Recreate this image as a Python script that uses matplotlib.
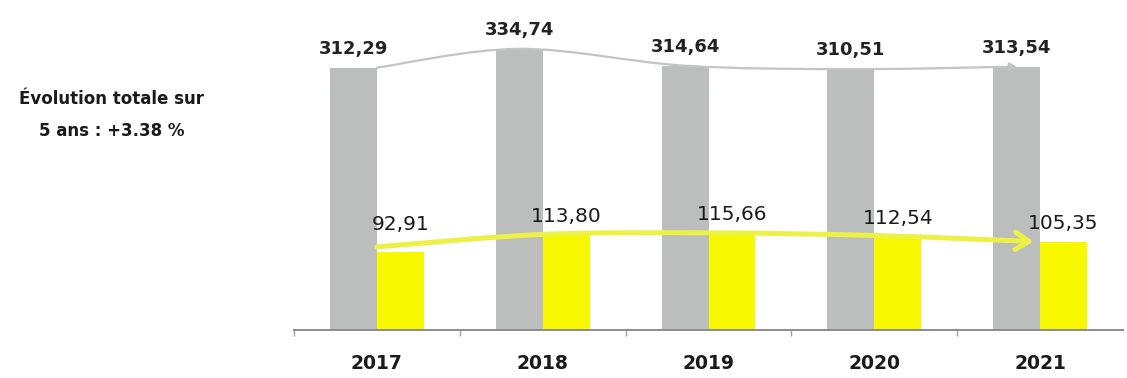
import matplotlib
matplotlib.use("Agg")
import matplotlib.pyplot as plt
from matplotlib.path import Path
from matplotlib.patches import FancyArrowPatch
import numpy as np

years = ["2017", "2018", "2019", "2020", "2021"]
grey_values = [312.29, 334.74, 314.64, 310.51, 313.54]
yellow_values = [92.91, 113.80, 115.66, 112.54, 105.35]
grey_labels = ["312,29", "334,74", "314,64", "310,51", "313,54"]
yellow_labels = ["92,91", "113,80", "115,66", "112,54", "105,35"]
note_text = "Évolution totale sur\n5 ans : +3.38 %"

GREY = "#bcbdbd"
YELLOW = "#f7f700"
YELLOW_LINE = "#ecf245"
CURVE_GREY = "#c4c4c4"

fig = plt.figure(figsize=(11.27, 3.78), dpi=100)
ax = fig.add_axes([294 / 1127, 48 / 378, 829 / 1127, 330 / 378])

x = np.arange(len(years))
w = 0.283
ax.bar(x - w / 2, grey_values, width=w, color=GREY, zorder=2)
ax.bar(x + w / 2, yellow_values, width=w, color=YELLOW, zorder=2)

ax.set_xlim(-0.5, 4.5)
ax.set_ylim(0, 330 / 0.84)


def smooth_path(px, py):
    pts = np.column_stack([px, py]).astype(float)
    n = len(pts)
    verts = [pts[0]]
    codes = [Path.MOVETO]
    for i in range(n - 1):
        p0 = pts[i - 1] if i > 0 else pts[i]
        p1 = pts[i]
        p2 = pts[i + 1]
        p3 = pts[i + 2] if i + 2 < n else pts[i + 1]
        c1 = p1 + (p2 - p0) / 6.0
        c2 = p2 - (p3 - p1) / 6.0
        verts += [c1, c2, p2]
        codes += [Path.CURVE4] * 3
    return Path(verts, codes)


# grey trend curve through grey bar tops
gx = list(x - w / 2)
gx[0] = 0.0
gpath = smooth_path(gx, grey_values)
garrow = FancyArrowPatch(path=gpath, arrowstyle="-|>,head_length=0.5,head_width=0.3",
                         mutation_scale=8, color=CURVE_GREY, lw=1.6, zorder=3)
ax.add_patch(garrow)

# yellow trend arrow
yx = list(x.astype(float))
yx[-1] = 3.96
ypath = smooth_path(yx, [yellow_values[0] + 6] + yellow_values[1:])
yarrow = FancyArrowPatch(path=ypath, arrowstyle="->,head_length=0.7,head_width=0.45",
                         mutation_scale=14, color=YELLOW_LINE, lw=3.6, zorder=4)
ax.add_patch(yarrow)

# value labels
for i, (v, lab) in enumerate(zip(grey_values, grey_labels)):
    ax.annotate(lab, (i - w / 2, v), xytext=(0, 10), textcoords="offset points",
                ha="center", va="baseline", fontsize=13, fontweight="bold",
                color="#222222", zorder=5)

y_offsets = [16, 9, 9, 8, 9]
for i, (v, lab) in enumerate(zip(yellow_values, yellow_labels)):
    ax.annotate(lab, (i + w / 2, v), xytext=(0, y_offsets[i]), textcoords="offset points",
                ha="center", va="baseline", fontsize=14.5, color="#1a1a1a", zorder=5)

# axes styling
for s in ["top", "right", "left"]:
    ax.spines[s].set_visible(False)
ax.spines["bottom"].set_color("#8c8c8c")
ax.spines["bottom"].set_linewidth(1.4)
ax.set_yticks([])
ax.set_xticks(x)
ax.set_xticklabels(years, fontsize=13.5, fontweight="bold", color="#1a1a1a")
ax.tick_params(axis="x", which="major", length=0, pad=17)
ax.set_xticks(np.arange(-0.5, 4.0, 1.0), minor=True)
ax.tick_params(axis="x", which="minor", length=4, width=1, color="#a0a0a0")

fig.text(112 / 1127, 1 - 115 / 378, note_text, ha="center", va="center",
         fontsize=12, fontweight="bold", color="#1a1a1a", linespacing=2.0)

fig.savefig("out.png", dpi=100, facecolor="white")
